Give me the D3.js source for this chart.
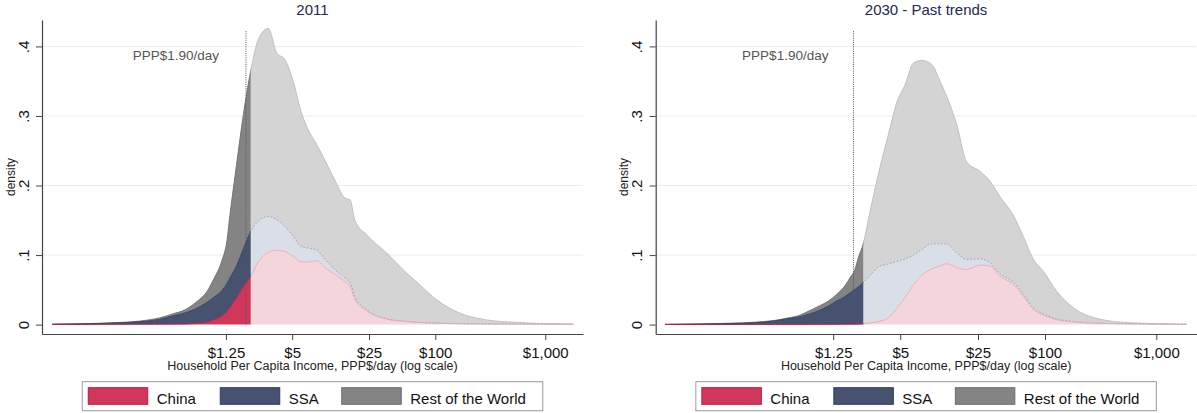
<!DOCTYPE html>
<html>
<head>
<meta charset="utf-8">
<script src="https://cdn.jsdelivr.net/npm/d3@7"></script>
<style>
  html, body { margin: 0; padding: 0; background: #fff; }
  svg { display: block; font-family: "Liberation Sans", Arial, Helvetica, sans-serif; }
</style>
</head>
<body>
<svg id="chart" width="1197" height="413"></svg>
<script>
// ---- Density of household per-capita income (PPP$/day), stacked by region ----

// 2011
const incomes2011 = [0.033, 0.059, 0.11, 0.21, 0.31, 0.41, 0.53, 0.68, 0.84, 0.96, 1.14, 1.28, 1.36, 1.56, 1.80, 2.10, 2.46, 3.03, 3.61, 4.30, 5.11, 6.09, 7.00, 8.35, 9.94, 12.2, 15.1, 16.8, 18.6, 23.8, 36.1, 53.1, 72.6, 103, 168, 293, 512, 993, 1800];
const china2011 = [0.0003, 0.0003, 0.0004, 0.0005, 0.0006, 0.0008, 0.001, 0.002, 0.0032, 0.0068, 0.0118, 0.0187, 0.0248, 0.0384, 0.0543, 0.0691, 0.0903, 0.104, 0.107, 0.105, 0.098, 0.090, 0.090, 0.092, 0.082, 0.072, 0.062, 0.055, 0.036, 0.020, 0.008, 0.0046, 0.003, 0.002, 0.0012, 0.0008, 0.0006, 0.0005, 0.0004];
const ssa2011 = [0.0002, 0.0007, 0.0016, 0.0038, 0.0069, 0.0117, 0.0158, 0.0216, 0.0288, 0.0322, 0.0367, 0.0409, 0.0424, 0.0461, 0.0547, 0.0649, 0.0587, 0.0515, 0.044, 0.036, 0.029, 0.022, 0.020, 0.015, 0.012, 0.007, 0.005, 0.005, 0.0045, 0.0015, 0.0004, 0.0003, 0.0002, 0.0002, 0.0002, 0.0002, 0.0001, 0.0001, 0.0001];
const row2011 = [0.0001, 0.0002, 0.0005, 0.001, 0.0021, 0.0029, 0.0044, 0.0095, 0.0155, 0.0254, 0.0422, 0.0624, 0.0908, 0.1455, 0.193, 0.231, 0.261, 0.2705, 0.240, 0.240, 0.223, 0.192, 0.170, 0.152, 0.142, 0.129, 0.115, 0.1195, 0.1095, 0.1075, 0.0946, 0.0714, 0.0538, 0.0334, 0.015, 0.0058, 0.0028, 0.0009, 0.0003];

// 2030, past-trends projection
const incomes2030 = [0.0386, 0.0794, 0.148, 0.248, 0.375, 0.494, 0.630, 0.747, 0.913, 1.13, 1.34, 1.60, 1.77, 1.96, 2.10, 2.33, 2.68, 3.28, 3.91, 4.65, 5.53, 6.57, 7.80, 9.60, 11.4, 13.1, 16.1, 19.8, 26.1, 32.1, 39.4, 51.9, 63.8, 78.6, 96.5, 127, 180, 292, 581, 1875];
const china2030 = [0.0002, 0.0002, 0.0002, 0.0002, 0.0003, 0.0003, 0.0003, 0.0003, 0.0004, 0.0004, 0.0004, 0.0005, 0.0005, 0.0006, 0.0008, 0.0013, 0.0025, 0.005, 0.0096, 0.0233, 0.039, 0.057, 0.0707, 0.080, 0.0843, 0.0875, 0.0818, 0.0793, 0.0855, 0.0841, 0.0697, 0.0578, 0.041, 0.0218, 0.0139, 0.007, 0.0039, 0.0019, 0.001, 0.0004];
const ssa2030 = [0.0001, 0.0006, 0.0013, 0.0025, 0.005, 0.0082, 0.0111, 0.0144, 0.0193, 0.0262, 0.0334, 0.040, 0.0453, 0.050, 0.0534, 0.0593, 0.0682, 0.079, 0.0776, 0.0675, 0.0554, 0.0431, 0.0373, 0.0362, 0.0319, 0.0287, 0.0215, 0.0144, 0.0092, 0.0048, 0.0035, 0.0035, 0.0024, 0.0025, 0.0015, 0.0012, 0.0007, 0.0003, 0.0002, 0.0001];
const row2030 = [0.0001, 0.0002, 0.0005, 0.0008, 0.0008, 0.0012, 0.0022, 0.0045, 0.0063, 0.0072, 0.0096, 0.0158, 0.0216, 0.0287, 0.0419, 0.0561, 0.0923, 0.1414, 0.1858, 0.2282, 0.2506, 0.2759, 0.272, 0.2578, 0.2338, 0.2118, 0.1843, 0.1400, 0.1258, 0.1171, 0.1107, 0.0958, 0.0833, 0.0694, 0.0615, 0.0399, 0.0197, 0.0067, 0.0015, 0.0001];

const seriesKeys = ["china", "ssa", "row"];
const seriesNames = ["China", "SSA", "Rest of the World"];
const panelTitles = ["2011", "2030 - Past trends"];
const xTickValues = [1.25, 5, 25, 100, 1000];
const xTickLabels = ["$1.25", "$5", "$25", "$100", "$1,000"];
const yTickValues = [0, 0.1, 0.2, 0.3, 0.4];
const yTickLabels = ["0", ".1", ".2", ".3", ".4"];
const povertyLine = 1.9;
const povertyLabel = "PPP$1.90/day";
const shadeCuts = [2.1, 2.33];   // where the poor (saturated) part of each density ends
const xAxisTitle = "Household Per Capita Income, PPP$/day (log scale)";
const yAxisTitle = "density";

// ---- styling ----
const darkFill   = { china: "#d0385b", ssa: "#46526f", row: "#848484" };
const darkStroke = { china: "#c2173f", ssa: "#2e3b5e", row: "#6e6e6e" };
const lightFill  = { china: "#f5d5dc", ssa: "#dadee6", row: "#d4d4d4" };
const lightStroke = { china: "#e8a8b7", ssa: "#9aa1b6", row: "#bcbcbc" };
const titleColor = "#1d2a4a";

const svg = d3.select("#chart");
const plotTop = 20, plotBottom = 334;
const yDomain = [-0.0135, 0.438];

const panels = [
  { title: panelTitles[0], incomes: incomes2011, china: china2011, ssa: ssa2011, row: row2011,
    cut: shadeCuts[0], left: 42, right: 583, xDomain: [Math.pow(10, -1.5755), Math.pow(10, 3.343)], labelGap: 27 },
  { title: panelTitles[1], incomes: incomes2030, china: china2030, ssa: ssa2030, row: row2030,
    cut: shadeCuts[1], left: 655.7, right: 1196.5, xDomain: [Math.pow(10, -1.498), Math.pow(10, 3.361)], labelGap: 25 }
];

panels.forEach((p, pi) => {
  const g = svg.append("g");
  const x = d3.scaleLog().domain(p.xDomain).range([p.left, p.right]);
  const y = d3.scaleLinear().domain(yDomain).range([plotBottom, plotTop]);
  const cx = (p.left + p.right) / 2;

  // horizontal grid
  g.append("g").selectAll("line")
    .data(yTickValues.filter(v => v > 0))
    .join("line")
    .attr("x1", p.left).attr("x2", p.right)
    .attr("y1", d => y(d)).attr("y2", d => y(d))
    .attr("stroke", "#e4eef2").attr("stroke-width", 1);

  // stacked densities
  const rows = p.incomes.map((inc, i) => ({ income: inc, china: p.china[i], ssa: p.ssa[i], row: p.row[i] }));
  const stacked = d3.stack().keys(seriesKeys)(rows);

  const area = d3.area().curve(d3.curveMonotoneX)
    .x(d => x(d.data.income)).y0(d => y(d[0])).y1(d => y(d[1]));
  const topLine = d3.line().curve(d3.curveMonotoneX)
    .x(d => x(d.data.income)).y(d => y(d[1]));

  const defs = svg.append("defs");
  const xc = x(p.cut);
  defs.append("clipPath").attr("id", "poor" + pi)
    .append("rect").attr("x", p.left).attr("y", 0).attr("width", xc - p.left).attr("height", 413);
  defs.append("clipPath").attr("id", "rich" + pi)
    .append("rect").attr("x", xc).attr("y", 0).attr("width", p.right - xc).attr("height", 413);

  const sides = [
    { clip: "rich" + pi, fill: lightFill, stroke: lightStroke, dash: { ssa: "2,1.5" } },
    { clip: "poor" + pi, fill: darkFill, stroke: darkStroke, dash: {} }
  ];
  sides.forEach(s => {
    const sg = g.append("g").attr("clip-path", `url(#${s.clip})`);
    stacked.forEach(layer => {
      sg.append("path").attr("d", area(layer)).attr("fill", s.fill[layer.key]);
    });
    stacked.slice().reverse().forEach(layer => {
      sg.append("path").attr("d", topLine(layer))
        .attr("fill", "none")
        .attr("stroke", s.stroke[layer.key])
        .attr("stroke-width", 0.9)
        .attr("stroke-dasharray", s.dash[layer.key] || null);
    });
  });

  // poverty line
  const xp = x(povertyLine);
  g.append("line")
    .attr("x1", xp).attr("x2", xp)
    .attr("y1", y(0)).attr("y2", y(0.422))
    .attr("stroke", "#555").attr("stroke-width", 1)
    .attr("stroke-dasharray", "1,1.2");
  g.append("text")
    .attr("x", xp - p.labelGap).attr("y", 60)
    .attr("text-anchor", "end")
    .attr("font-size", 13.5).attr("fill", "#555")
    .text(povertyLabel);

  // y axis
  const yAxis = g.append("g")
    .attr("transform", `translate(${p.left},0)`)
    .call(d3.axisLeft(y).tickValues(yTickValues).tickFormat((d, i) => yTickLabels[i]).tickSize(6).tickSizeOuter(0));
  yAxis.select(".domain").attr("stroke", "#444").attr("stroke-width", 1.2);
  yAxis.selectAll(".tick line").attr("stroke", "#444");
  yAxis.selectAll(".tick text")
    .attr("transform", "rotate(-90)")
    .attr("x", 0).attr("y", -13.5).attr("dy", null)
    .attr("text-anchor", "middle")
    .attr("font-size", 15).attr("fill", "#111")
    .attr("font-family", "Liberation Sans, Arial, sans-serif");

  // x axis
  const xAxis = g.append("g")
    .attr("transform", `translate(0,${plotBottom})`)
    .call(d3.axisBottom(x).tickValues(xTickValues).tickFormat((d, i) => xTickLabels[i]).tickSize(6).tickSizeOuter(0));
  xAxis.select(".domain").attr("stroke", "#444").attr("stroke-width", 1.2);
  xAxis.selectAll(".tick line").attr("stroke", "#444");
  xAxis.selectAll(".tick text")
    .attr("y", 24).attr("dy", null)
    .attr("font-size", 15).attr("fill", "#111")
    .attr("font-family", "Liberation Sans, Arial, sans-serif");

  // axis titles
  g.append("text")
    .attr("transform", `translate(${p.left - 27.5},177) rotate(-90)`)
    .attr("text-anchor", "middle")
    .attr("font-size", 12).attr("fill", "#222")
    .text(yAxisTitle);
  g.append("text")
    .attr("x", cx).attr("y", 370)
    .attr("text-anchor", "middle")
    .attr("font-size", 12.5).attr("fill", "#222")
    .text(xAxisTitle);

  // panel title
  g.append("text")
    .attr("x", cx).attr("y", 15)
    .attr("text-anchor", "middle")
    .attr("font-size", 15).attr("fill", titleColor)
    .text(p.title);

  // legend
  const lw = 460.5, lx = cx - lw / 2, ly = 381.7;
  const lg = g.append("g");
  lg.append("rect")
    .attr("x", lx).attr("y", ly).attr("width", lw).attr("height", 29)
    .attr("fill", "#fff").attr("stroke", "#9a9a9a").attr("stroke-width", 1);
  const offsets = [6, 138, 259.5];
  seriesKeys.forEach((k, i) => {
    const sx = lx + offsets[i];
    lg.append("rect")
      .attr("x", sx).attr("y", ly + 6).attr("width", 59.5).attr("height", 16.6)
      .attr("fill", darkFill[k]).attr("stroke", darkStroke[k]).attr("stroke-width", 1);
    lg.append("text")
      .attr("x", sx + 68.5).attr("y", ly + 22.3)
      .attr("font-size", 15).attr("fill", "#111")
      .text(seriesNames[i]);
  });
});
</script>
</body>
</html>
